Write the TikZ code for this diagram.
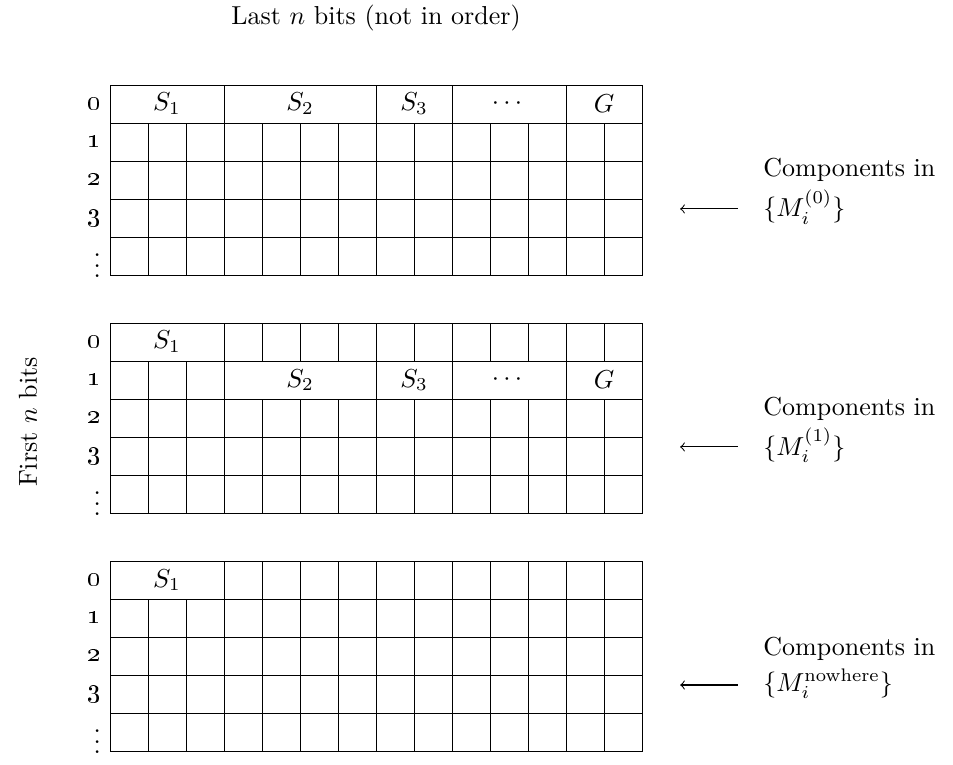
\documentclass[tikz,border=0pt]{standalone}
\usepackage{amsmath}
\usepackage{tikz}

\begin{document}
\begin{tikzpicture}[x=0.514cm,y=0.514cm]
  \useasboundingbox (-2.895,2.237) rectangle (22.18,-17.89);
  \node (lastbits) at (7,1.76) {Last $n$ bits (not in order)};
  \node[rotate=90] (firstbits) at (-2.16,-8.87) {First $n$ bits};
  % frame, rows, row labels and the arrow of each table
  \foreach \k/\mset in {0/{(0)},1/{(1)},2/{\text{nowhere}}} {
    \begin{scope}[shift={(0,-6.263*\k)}]
      \draw (0,0) rectangle (14,-5);
      \foreach \r in {1,...,4}
        \draw (0,-\r) -- (14,-\r);
      \foreach \r in {0,...,3}
        \node[left,inner ysep=1pt] (row\k\r) at (0,-\r-0.5) {\oldstylenums{\r}};
      \node[left,inner ysep=0pt] (row\k4) at (0,-4.55) {$\vdots$};
      \coordinate (tip\k) at (15,-3.26);
      \coordinate (tail\k) at (16.53,-3.26);
      \draw[<-] (tip\k) -- (tail\k);
      \node[anchor=west,align=left,inner ysep=1pt] (comp\k) at (16.95,-2.8)
        {Components in\\[2pt]$\{M_i^{\mset}\}$};
    \end{scope}
  }
  % table 0
  \foreach \c in {1,...,13}
    \draw (\c,-1) -- (\c,-5);
  \foreach \c in {3,7,9,12}
    \draw (\c,0) -- (\c,-1);
  \node (sa1) at (1.5,-0.5) {$S_1$};
  \node (sa2) at (5,-0.5) {$S_2$};
  \node (sa3) at (8,-0.5) {$S_3$};
  \node (sadots) at (10.5,-0.5) {$\cdots$};
  \node (saG) at (13,-0.5) {$G$};
  % table 1
  \begin{scope}[shift={(0,-6.263)}]
    \foreach \c in {3,...,13}
      \draw (\c,0) -- (\c,-1);
    \foreach \c in {1,2,3,7,9,12}
      \draw (\c,-1) -- (\c,-2);
    \foreach \c in {1,...,13}
      \draw (\c,-2) -- (\c,-5);
    \node (sb1) at (1.5,-0.5) {$S_1$};
    \node (sb2) at (5,-1.5) {$S_2$};
    \node (sb3) at (8,-1.5) {$S_3$};
    \node (sbdots) at (10.5,-1.5) {$\cdots$};
    \node (sbG) at (13,-1.5) {$G$};
  \end{scope}
  % table 2
  \begin{scope}[shift={(0,-12.526)}]
    \foreach \c in {3,...,13}
      \draw (\c,0) -- (\c,-1);
    \foreach \c in {1,...,13}
      \draw (\c,-1) -- (\c,-5);
    \node (sc1) at (1.5,-0.5) {$S_1$};
  \end{scope}
\end{tikzpicture}
\end{document}
